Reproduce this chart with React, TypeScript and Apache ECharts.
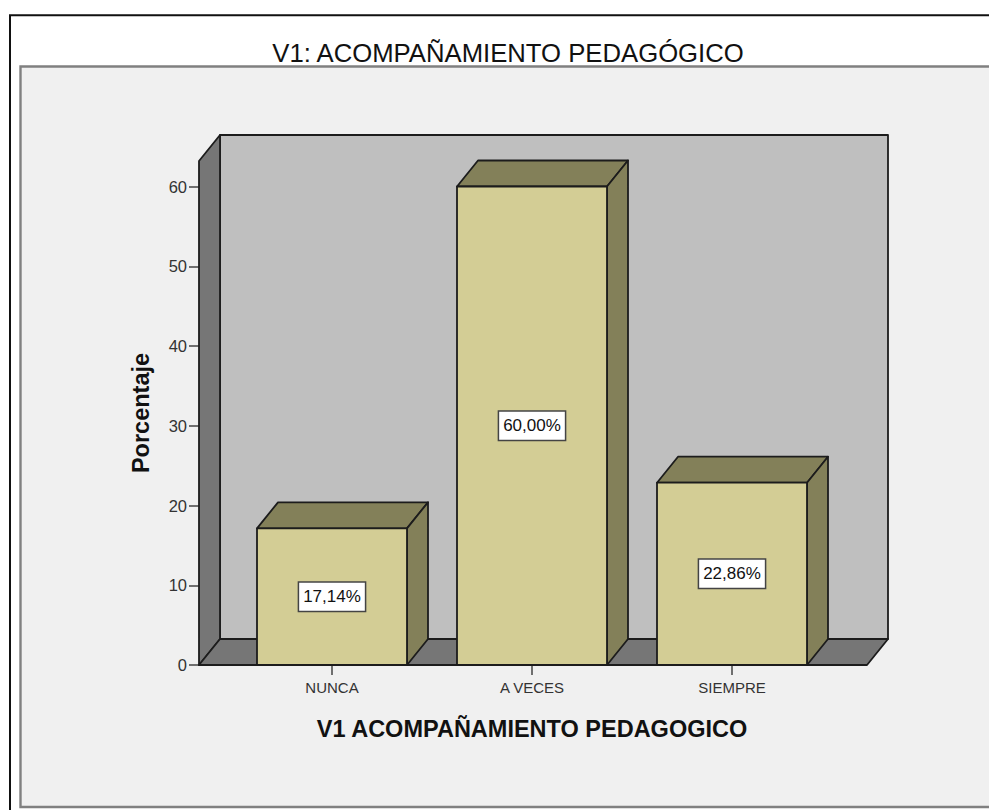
import React, { useEffect, useRef } from "react";
import * as echarts from "echarts";

const categories = ["NUNCA", "A VECES", "SIEMPRE"];
const percentages = [17.14, 60.0, 22.86];
const percentLabels = ["17,14%", "60,00%", "22,86%"];
const yTicks = [0, 10, 20, 30, 40, 50, 60];

const FONT = '"Liberation Sans", Arial, sans-serif';
const DEPTH_X = 21;
const DEPTH_Y = 26;
const BAR_WIDTH = 150;
const EDGE = "#1c1c1c";

export default function App() {
  const ref = useRef<HTMLDivElement>(null);
  useEffect(() => {
    document.body.style.margin = "0";
    const chart = echarts.init(ref.current!, null, { renderer: "svg" });
    const face = (points: number[][], fill: string) => ({
      type: "polygon",
      shape: { points },
      style: { fill, stroke: EDGE, lineWidth: 1.8, lineJoin: "round" },
    });
    chart.setOption({
      animation: false,
      backgroundColor: "#ffffff",
      graphic: {
        elements: [
          { type: "rect", z: -10, shape: { x: 10, y: 15.3, width: 985, height: 810 }, style: { fill: "#fff", stroke: "#111", lineWidth: 2 } },
          { type: "rect", z: -9, shape: { x: 20.5, y: 66.5, width: 980, height: 740.5 }, style: { fill: "#f0f0f0", stroke: "#808080", lineWidth: 2.4 } },
        ],
      },
      title: {
        text: "V1: ACOMPAÑAMIENTO PEDAGÓGICO",
        left: 503,
        top: 35,
        textAlign: "center",
        textStyle: { fontFamily: FONT, fontSize: 25.7, fontWeight: "normal", color: "#111" },
      },
      grid: { left: 232, top: 161, width: 600, bottom: 145 },
      xAxis: {
        type: "category",
        data: categories,
        name: "V1 ACOMPAÑAMIENTO PEDAGOGICO",
        nameLocation: "middle",
        nameGap: 52,
        nameTextStyle: { fontFamily: FONT, fontSize: 23.5, fontWeight: "bold", color: "#111" },
        axisLine: { show: false },
        axisTick: { show: true, alignWithLabel: true, length: 10, lineStyle: { color: "#444", width: 1.5 } },
        axisLabel: { fontFamily: FONT, fontSize: 15, color: "#333", margin: 15 },
      },
      yAxis: {
        type: "value",
        min: 0,
        max: 63.2,
        offset: 33,
        name: "Porcentaje",
        nameLocation: "middle",
        nameGap: 46,
        nameTextStyle: { fontFamily: FONT, fontSize: 23.5, fontWeight: "bold", color: "#111" },
        splitLine: { show: false },
        axisLine: { show: false },
        axisTick: { show: true, customValues: yTicks, length: 10, lineStyle: { color: "#444", width: 1.5 } },
        axisLabel: {
          customValues: yTicks,
          fontFamily: FONT,
          fontSize: 16.5,
          color: "#333",
          margin: 12,
          padding: [5, 0, 0, 0],
        },
      },
      series: [
        {
          type: "custom",
          coordinateSystem: "cartesian2d",
          data: [0],
          z: 1,
          encode: { x: -1, y: -1 },
          renderItem: (params: any) => {
            const c = params.coordSys;
            const l = c.x - 33;
            const r = c.x + c.width + 35;
            const t = c.y;
            const b = c.y + c.height;
            return {
              type: "group",
              children: [
                face([[l + DEPTH_X, t - DEPTH_Y], [r + DEPTH_X, t - DEPTH_Y], [r + DEPTH_X, b - DEPTH_Y], [l + DEPTH_X, b - DEPTH_Y]], "#bfbfbf"),
                face([[l, t], [l + DEPTH_X, t - DEPTH_Y], [l + DEPTH_X, b - DEPTH_Y], [l, b]], "#767676"),
                face([[l, b], [l + DEPTH_X, b - DEPTH_Y], [r + DEPTH_X, b - DEPTH_Y], [r, b]], "#767676"),
              ],
            };
          },
        },
        {
          type: "custom",
          coordinateSystem: "cartesian2d",
          data: percentages.map((v, i) => [i, v]),
          encode: { x: 0, y: 1 },
          z: 2,
          renderItem: (params: any, api: any) => {
            const i = api.value(0);
            const v = api.value(1);
            const [cx, top] = api.coord([i, v]);
            const [, base] = api.coord([i, 0]);
            const x0 = cx - BAR_WIDTH / 2;
            const x1 = cx + BAR_WIDTH / 2;
            return {
              type: "group",
              children: [
                face([[x0, top], [x0 + DEPTH_X, top - DEPTH_Y], [x1 + DEPTH_X, top - DEPTH_Y], [x1, top]], "#838059"),
                face([[x1, top], [x1 + DEPTH_X, top - DEPTH_Y], [x1 + DEPTH_X, base - DEPTH_Y], [x1, base]], "#838059"),
                face([[x0, top], [x1, top], [x1, base], [x0, base]], "#d3cd95"),
                {
                  type: "text",
                  style: {
                    x: cx,
                    y: (top + base) / 2,
                    text: percentLabels[params.dataIndex],
                    align: "center",
                    verticalAlign: "middle",
                    fontFamily: FONT,
                    fontSize: 17,
                    fill: "#111",
                    backgroundColor: "#ffffff",
                    borderColor: "#444",
                    borderWidth: 1.5,
                    padding: [6, 4, 5, 4],
                  },
                },
              ],
            };
          },
        },
      ],
    });
    return () => chart.dispose();
  }, []);
  return <div ref={ref} style={{ width: 989, height: 810 }} />;
}
